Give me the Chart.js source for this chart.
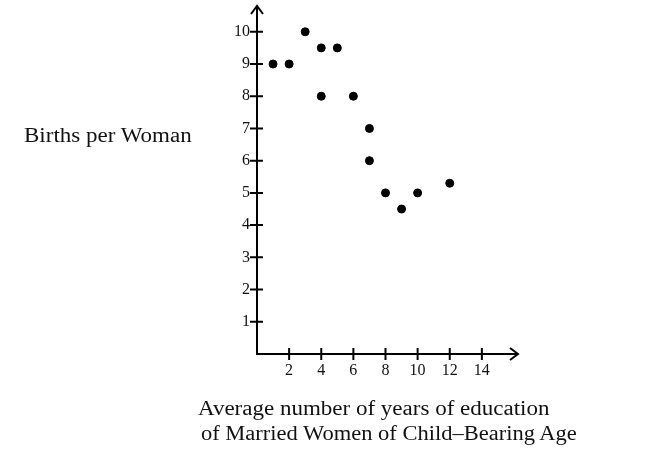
<!DOCTYPE html>
<html>
<head>
    <meta charset="UTF-8">
    <title>Births per Woman</title>
    <script src="https://cdn.jsdelivr.net/npm/chart.js"></script>
    <style>
        body { margin: 0; background: #fff; }
        #wrap { position: relative; width: 650px; height: 452px; }
        .lbl { position: absolute; font-family: "Liberation Serif", serif; color: #111; white-space: nowrap;
               font-size: 20px; transform-origin: left top; }
        #ytitle { left: 24px; top: 124px; transform: scaleX(1.15); }
        #xtitle1 { left: 198px; top: 397px; transform: scaleX(1.15); }
        #xtitle2 { left: 201px; top: 422px; transform: scaleX(1.125); }
    </style>
</head>
<body>
<div id="wrap">
    <canvas id="chart" width="650" height="452"></canvas>
    <div class="lbl" id="ytitle">Births per Woman</div>
    <div class="lbl" id="xtitle1">Average number of years of education</div>
    <div class="lbl" id="xtitle2">of Married Women of Child&ndash;Bearing Age</div>
</div>
<script>
// years of education, births per woman
const years  = [1, 2, 3, 4, 4, 5, 6, 7, 7, 8, 9, 10, 12];
const births = [9, 9, 10, 9.5, 8, 9.5, 8, 7, 6, 5, 4.5, 5, 5.3];
const xTicks = [2, 4, 6, 8, 10, 12, 14];
const yTicks = [1, 2, 3, 4, 5, 6, 7, 8, 9, 10];

const points = years.map((x, i) => ({ x: x, y: births[i] }));

// draws the arrowed axes with ticks crossing the line
const axesPlugin = {
    id: 'axes',
    beforeDatasetsDraw(chart) {
        const ctx = chart.ctx;
        const xs = chart.scales.x, ys = chart.scales.y;
        const x0 = xs.getPixelForValue(0), y0 = ys.getPixelForValue(0);
        const xEnd = xs.getPixelForValue(xs.max), yEnd = ys.getPixelForValue(ys.max);
        ctx.save();
        ctx.strokeStyle = '#000';
        ctx.lineWidth = 2;
        ctx.beginPath();
        ctx.moveTo(x0, y0); ctx.lineTo(xEnd, y0);
        ctx.moveTo(x0, y0 + 1); ctx.lineTo(x0, yEnd);
        // arrow heads
        ctx.moveTo(xEnd - 8, y0 - 6); ctx.lineTo(xEnd, y0); ctx.lineTo(xEnd - 8, y0 + 6);
        ctx.moveTo(x0 - 6, yEnd + 8); ctx.lineTo(x0, yEnd); ctx.lineTo(x0 + 6, yEnd + 8);
        xTicks.forEach(v => {
            const px = xs.getPixelForValue(v);
            ctx.moveTo(px, y0 - 6); ctx.lineTo(px, y0 + 6);
        });
        yTicks.forEach(v => {
            const py = ys.getPixelForValue(v);
            ctx.moveTo(x0 - 7, py); ctx.lineTo(x0 + 6, py);
        });
        ctx.stroke();

        ctx.fillStyle = '#111';
        ctx.font = '16px "Liberation Serif", serif';
        ctx.textAlign = 'center';
        ctx.textBaseline = 'middle';
        xTicks.forEach(v => ctx.fillText(String(v), xs.getPixelForValue(v), y0 + 17));
        ctx.textAlign = 'right';
        yTicks.forEach(v => ctx.fillText(String(v), x0 - 7, ys.getPixelForValue(v)));
        ctx.restore();
    }
};

new Chart(document.getElementById('chart').getContext('2d'), {
    type: 'scatter',
    data: {
        datasets: [{
            data: points,
            backgroundColor: '#000',
            borderColor: '#000',
            pointRadius: 4,
            pointHoverRadius: 4
        }]
    },
    options: {
        responsive: false,
        animation: false,
        layout: { padding: { left: 257, right: 132, top: 6, bottom: 98 } },
        plugins: { legend: { display: false }, tooltip: { enabled: false } },
        scales: {
            x: { type: 'linear', min: 0, max: 16.25, display: false },
            y: { type: 'linear', min: 0, max: 10.8, display: false }
        }
    },
    plugins: [axesPlugin]
});
</script>
</body>
</html>
